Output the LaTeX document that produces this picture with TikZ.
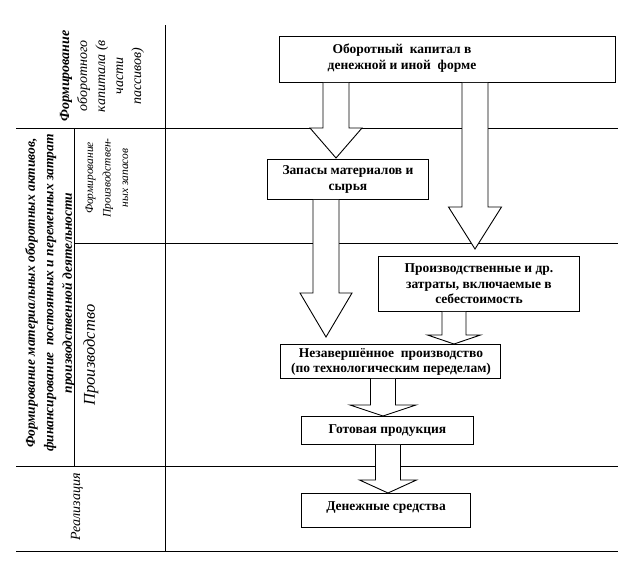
\documentclass[tikz,border=0pt]{standalone}
\usepackage{fontspec}
\setmainfont{Liberation Serif}
\begin{document}
\begin{tikzpicture}[x=1pt,y=-1pt,
  tline/.style={line width=0.9pt},
  box/.style={draw,line width=0.9pt,rectangle,inner sep=0pt,anchor=north west},
  btxt/.style={font=\fontsize{13.5}{15.5}\selectfont\bfseries,align=center,inner sep=0pt},
  blk/.style={draw=black,fill=white,line width=0.9pt,line join=miter},
  vlab/.style={rotate=90,align=center,inner sep=0pt}]
\useasboundingbox (0,0) rectangle (635,568);
% table lines
\draw[tline] (165,25) -- (165,551);
\draw[tline] (16,128) -- (618,128);
\draw[tline] (74,128) -- (74,466);
\draw[tline] (74,243) -- (618,243);
\draw[tline] (16,466) -- (618,466);
\draw[tline] (16,551) -- (618,551);
% boxes
\node[box,minimum width=336pt,minimum height=46pt] (top) at (279,36) {};
\node[btxt] (topT) at (402,58) {Оборотный\ \ капитал в\\денежной и иной\ \ форме};
\node[box,minimum width=161pt,minimum height=40pt] (zap) at (267,159) {};
\node[btxt] (zapT) at (zap.center) {Запасы материалов и\\сырья};
\node[box,minimum width=201pt,minimum height=55pt] (proizv) at (378,256) {};
\node[btxt] (proizvT) at (proizv.center) {Производственные и др.\\затраты, включаемые в\\себестоимость};
\node[box,minimum width=220pt,minimum height=34pt] (nez) at (280,344) {};
\node[btxt] (nezT) at (391,362) {Незавершённое\ \ производство\\(по технологическим переделам)};
\node[box,minimum width=172pt,minimum height=28pt] (got) at (301,416) {};
\node[btxt] (gotT) at (got.center) {Готовая продукция};
\node[box,minimum width=169pt,minimum height=34pt] (den) at (301,493) {};
\node[btxt] (denT) at (386,508) {Денежные средства};
% block arrows: src, x, shaft half, head half, head y, tip y
\newcommand\blockarr[6]{%
  \filldraw[blk] (#2-#3,0 |- #1.south) -- (#2-#3,#5) -- (#2-#4,#5) -- (#2,#6) -- (#2+#4,#5) -- (#2+#3,#5) -- (#2+#3,0 |- #1.south);}
\blockarr{top}{336}{13}{26}{128}{158}
\blockarr{top}{475}{13}{26.5}{207}{249}
\blockarr{zap}{326}{13}{26}{293}{337}
\blockarr{proizv}{454}{12}{26.5}{335}{344}
\blockarr{nez}{383}{12.5}{33}{405}{416}
\blockarr{got}{388}{12.5}{28.5}{480}{493}
% left labels
\node[vlab,font=\fontsize{14}{18}\selectfont\itshape] (l1) at (102,76) {\textbf{Формирование}\\оборотного\\капитала (в\\части\\пассивов)};
\node[vlab,font=\fontsize{13.5}{18.5}\selectfont\bfseries\itshape] (l2) at (50,293) {Формирование материальных оборотных активов,\\финансирование\ \ постоянных и переменных затрат\\производственной деятельности};
\node[vlab,font=\fontsize{11.5}{17.5}\selectfont\itshape] (l3) at (107,178) {Формирование\\Производствен-\\ных запасов};
\node[vlab,font=\fontsize{16.5}{19}\selectfont\itshape] (l4) at (91,355) {Производство};
\node[vlab,font=\fontsize{14}{16}\selectfont\itshape] (l5) at (77,507) {Реализация};
\end{tikzpicture}
\end{document}
